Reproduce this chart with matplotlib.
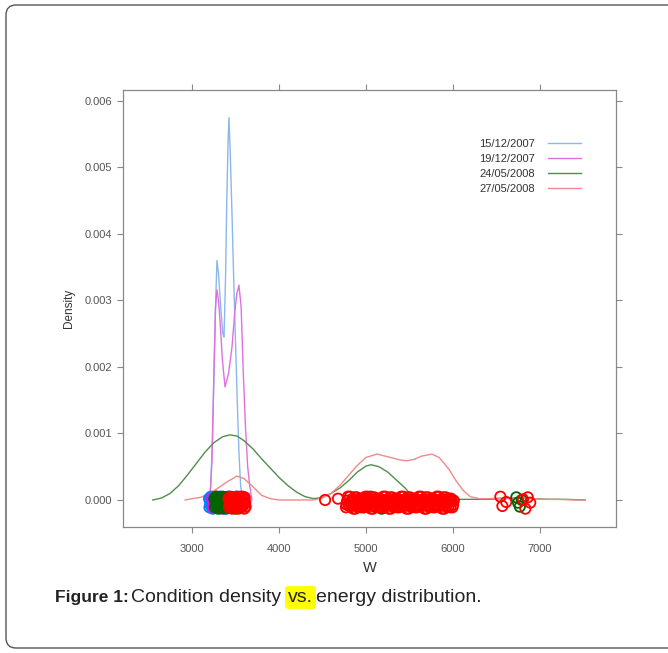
import numpy as np
import matplotlib.pyplot as plt
from matplotlib.lines import Line2D
from matplotlib.patches import FancyBboxPatch

plt.rcParams['font.family'] = ['Liberation Sans', 'DejaVu Sans']

dates = ['15/12/2007', '19/12/2007', '24/05/2008', '27/05/2008']

# kernel density curves, W vs density
w_1512 = [3195, 3215, 3235, 3255, 3275, 3287, 3305, 3330, 3355, 3368, 3385, 3400,
          3415, 3425, 3440, 3460, 3480, 3500, 3520, 3540, 3560, 3580]
d_1512 = [0, 0.0002, 0.0009, 0.0020, 0.0031, 0.0036, 0.0034, 0.0029, 0.0025, 0.00245,
          0.0033, 0.0045, 0.0054, 0.00575, 0.0052, 0.0043, 0.0033, 0.0024, 0.0015,
          0.0007, 0.0002, 0]

w_1912 = [3190, 3210, 3230, 3250, 3270, 3287, 3305, 3322, 3350, 3380, 3420, 3460,
          3490, 3515, 3540, 3565, 3590, 3615, 3640, 3665, 3690]
d_1912 = [0, 0.0001, 0.0006, 0.0018, 0.0029, 0.00316, 0.0030, 0.0027, 0.0021, 0.0017,
          0.0019, 0.0023, 0.0028, 0.0031, 0.00323, 0.0029, 0.0019, 0.0011, 0.0005,
          0.0002, 0]

w_2405 = [2550, 2650, 2750, 2850, 2950, 3050, 3150, 3250, 3350, 3437, 3520, 3600,
          3700, 3800, 3900, 4000, 4100, 4200, 4300, 4400, 4500, 4600, 4700, 4800,
          4900, 5000, 5060, 5150, 5250, 5350, 5450, 5530, 5600, 5800, 6000, 6200,
          6400, 6600, 6750, 6900, 7100, 7300, 7520]
d_2405 = [0, 0.00003, 0.0001, 0.00022, 0.00038, 0.00055, 0.00072, 0.00086, 0.00095,
          0.00098, 0.00096, 0.00089, 0.00077, 0.00062, 0.00048, 0.00034, 0.00022,
          0.00012, 0.00005, 0.00002, 0.00004, 0.0001, 0.00018, 0.00029, 0.00042,
          0.00051, 0.00053, 0.0005, 0.00042, 0.0003, 0.00018, 0.00006, 0.00002,
          0.00001, 0.00001, 0.00001, 0.00001, 0.00002, 0.00004, 0.00002, 0.00001,
          0.00001, 0]

w_2705 = [2920, 3000, 3100, 3200, 3300, 3400, 3517, 3600, 3700, 3800, 3900, 4000,
          4200, 4400, 4500, 4600, 4700, 4800, 4900, 5000, 5126, 5220, 5310, 5400,
          5471, 5550, 5640, 5759, 5840, 5900, 5960, 6040, 6120, 6200, 6300, 6400,
          6550, 6650, 6750, 6850, 7000, 7200, 7400, 7520]
d_2705 = [0, 0.00002, 0.00004, 0.0001, 0.00018, 0.00027, 0.00036, 0.00032, 0.0002,
          0.00007, 0.00002, 0, 0, 0, 0.00003, 0.0001, 0.00022, 0.00037, 0.00052,
          0.00064, 0.00069, 0.00066, 0.00063, 0.0006, 0.00059, 0.00061, 0.00066,
          0.00069, 0.00064, 0.00055, 0.00045, 0.00028, 0.00014, 0.00005, 0.00002,
          0.00002, 0.00003, 0.00002, 0.00004, 0.00003, 0.00001, 0.00001, 0, 0]

# observed W values for each date
pts_1512 = [3196, 3201, 3206, 3212, 3217, 3222, 3228, 3233, 3238, 3244, 3249, 3254,
            3260, 3266, 3275, 3288, 3300, 3318, 3340, 3362, 3384, 3401, 3412, 3420,
            3426, 3432, 3440, 3452, 3470, 3495, 3525, 3556]
pts_1912 = [3232, 3244, 3256, 3270, 3281, 3290, 3300, 3315, 3340, 3380, 3420, 3460,
            3490, 3510, 3525, 3538, 3548, 3560, 3575, 3590, 3602]
pts_2405 = [3258, 3263, 3268, 3273, 3279, 3284, 3289, 3294, 3300, 3305, 3310, 3316,
            3321, 3326, 3332, 3337, 3342, 3348, 3353, 3358, 3364, 3369, 3374, 3380,
            3385, 3390, 3396, 3401, 3406, 3412, 3418, 3425, 3440, 3470, 3500, 3530,
            3560, 4905, 4930, 4960, 4985, 5010, 5030, 5055, 5080, 5110, 5140, 5180,
            6728, 6748, 6768, 6790]
pts_2705 = [3420, 3425, 3430, 3436, 3441, 3446, 3452, 3457, 3462, 3468, 3473, 3478,
            3484, 3489, 3494, 3500, 3505, 3510, 3516, 3521, 3526, 3532, 3537, 3542,
            3548, 3553, 3558, 3564, 3569, 3574, 3580, 3585, 3590, 3596, 3601, 3606,
            3612, 3617, 4530, 4678,
            4770, 4784, 4801, 4815, 4832, 4847, 4860, 4878, 4893, 4910, 4922, 4940,
            4955, 4971, 4986, 5002, 5018, 5031, 5049, 5064, 5080, 5095, 5112, 5126,
            5143, 5160, 5174, 5190, 5207, 5222, 5238, 5253, 5270, 5285, 5301, 5316,
            5333, 5348, 5364, 5380, 5395, 5412, 5428, 5443, 5460, 5475, 5490, 5506,
            5522, 5537, 5553, 5570, 5585, 5600, 5617, 5632, 5648, 5664, 5680, 5695,
            5711, 5727, 5742, 5758, 5773, 5790, 5805, 5821, 5837, 5852, 5868, 5884,
            5900, 5915, 5931, 5947, 5962, 5978, 5994, 6010,
            4776, 4793, 4808, 4824, 4839, 4853, 4870, 4886, 4901, 4916, 4931, 4948,
            4963, 4979, 4994, 5010, 5025, 5040, 5057, 5072, 5088, 5104, 5119, 5135,
            5151, 5167, 5182, 5199, 5214, 5230, 5246, 5262, 5277, 5293, 5309, 5325,
            5341, 5356, 5372, 5388, 5404, 5420, 5436, 5451, 5467, 5483, 5498, 5514,
            5530, 5545, 5561, 5577, 5593, 5609, 5625, 5640, 5656, 5672, 5688, 5703,
            5719, 5735, 5750, 5766, 5782, 5797, 5813, 5829, 5845, 5860, 5876, 5892,
            5907, 5923, 5939, 5955, 5970, 5986, 6002,
            6545, 6568, 6612, 6805, 6832, 6860, 6888]

line_colors = ['#8ab8ea', '#e070e0', '#4e8e4e', '#f08a8a']
point_colors = ['#0080ff', '#ff00ff', '#006400', '#ff0000']
jitter = [0.00005, -0.00008, 0.00002, -0.00004, 0.00008, -0.00006, 0.0, 0.00004,
          -0.0001, 0.00007, -0.00001, -0.00007, 0.00003]
base = -0.00003

fig = plt.figure(figsize=(6.68, 6.53), dpi=100)
ax = fig.add_axes([123 / 668, 1 - 527 / 653, 493 / 668, 437 / 653])

curves = [(w_1512, d_1512), (w_1912, d_1912), (w_2405, d_2405), (w_2705, d_2705)]
for (w, d), c in zip(curves, line_colors):
    ax.plot(w, d, color=c, lw=1.0, zorder=2)

# jittered observations along the zero line, drawn in date order
for pts, c in zip([pts_1512, pts_1912, pts_2405, pts_2705], point_colors):
    y = [base + jitter[i % len(jitter)] for i in range(len(pts))]
    ax.scatter(pts, y, s=55, facecolors='none', edgecolors=c, linewidths=1.3, zorder=3)

ax.set_xlim(2207, 7874)
ax.set_ylim(-0.000406, 0.006165)
ax.set_xticks([3000, 4000, 5000, 6000, 7000])
ax.set_yticks(np.arange(0, 0.0061, 0.001))
ax.set_yticklabels(['%.3f' % v for v in np.arange(0, 0.0061, 0.001)])
ax.tick_params(direction='out', length=4, width=0.8, colors='#888888',
               labelcolor='#555555', labelsize=8, top=True, right=True)
ax.tick_params(axis='x', pad=8)
for s in ax.spines.values():
    s.set_color('#888888')
    s.set_linewidth(0.9)
ax.set_xlabel('W', fontsize=10.5, color='#333333', labelpad=5)
ax.set_ylabel('Density', fontsize=8.5, color='#333333', labelpad=7)

handles = [Line2D([], [], color=c, lw=1.0) for c in line_colors]
ax.legend(handles, dates, frameon=False, markerfirst=False, loc='upper right',
          bbox_to_anchor=(0.94, 0.9), fontsize=8, handlelength=3.0,
          handletextpad=1.1, labelspacing=0.45, borderpad=0, labelcolor='#333333')

# caption below the chart, pieces placed left to right on one baseline
base_y = 1 - 602 / 653
fig.text(55 / 668, base_y, 'Figure 1:', fontsize=12.5, weight='bold',
         va='baseline', color='#222222')
fig.text(131 / 668, base_y, 'Condition density', fontsize=14, va='baseline',
         color='#222222')
fig.text(288 / 668, base_y, 'vs.', fontsize=14, va='baseline', color='#222222',
         bbox=dict(boxstyle='round,pad=0.15', fc='#ffff00', ec='none'))
fig.text(316 / 668, base_y, 'energy distribution.', fontsize=14, va='baseline',
         color='#222222')

border = FancyBboxPatch((0.06, 0.05), 7.0, 6.43, boxstyle='round,pad=0,rounding_size=0.1',
                        transform=fig.dpi_scale_trans, fill=False, ec='#555555', lw=1.0)
fig.patches.append(border)

fig.savefig('out.png', dpi=100)
